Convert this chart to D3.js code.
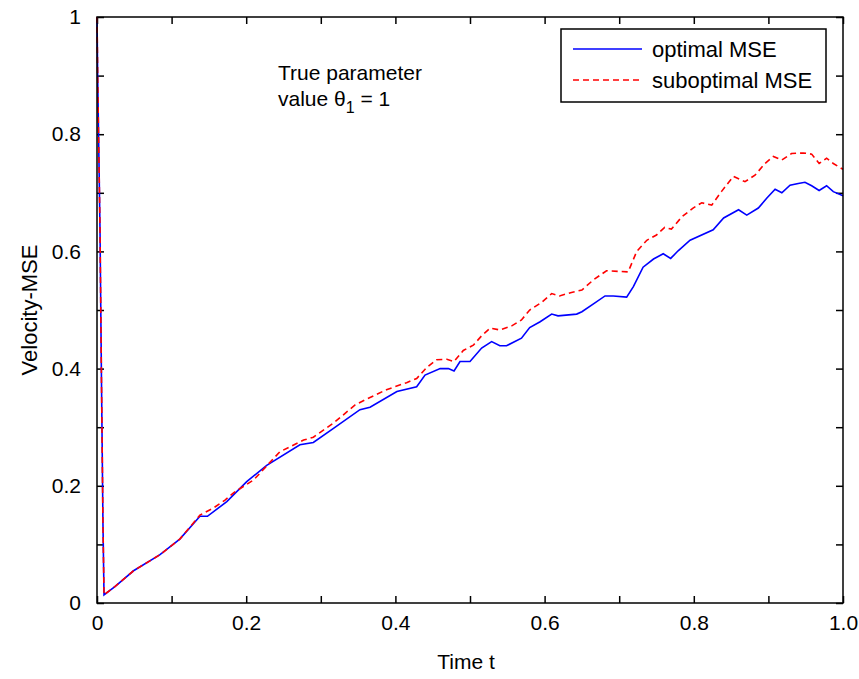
<!DOCTYPE html>
<html>
<head>
<meta charset="utf-8">
<script src="https://cdn.jsdelivr.net/npm/d3@7"></script>
<style>
  body { margin: 0; background: #fff; }
  svg text { font-family: "Liberation Sans", Arial, sans-serif; fill: #000; }
</style>
</head>
<body>
<div class="chart"></div>
<script>
var svgWidth = 859;
var svgHeight = 679;

var margin = { top: 17, right: 16, bottom: 76, left: 97 };
var width = svgWidth - margin.left - margin.right;
var height = svgHeight - margin.top - margin.bottom;

// data
var tOptimal = [0, 0.001, 0.004, 0.006, 0.008, 0.0094, 0.024, 0.049, 0.084, 0.111, 0.138, 0.148, 0.174, 0.2007,
  0.2275, 0.272, 0.29, 0.317, 0.3525, 0.366, 0.402, 0.4285, 0.4397, 0.46, 0.471, 0.4786, 0.4866, 0.5, 0.5156,
  0.529, 0.54, 0.549, 0.569, 0.58, 0.594, 0.6095, 0.618, 0.643, 0.65, 0.665, 0.681, 0.692, 0.71, 0.719, 0.732,
  0.746, 0.759, 0.769, 0.779, 0.795, 0.826, 0.84, 0.86, 0.871, 0.8865, 0.898, 0.909, 0.918, 0.929, 0.94, 0.949,
  0.958, 0.968, 0.978, 0.987, 1.0];
var mseOptimal = [1, 0.89, 0.64, 0.38, 0.135, 0.014, 0.028, 0.055, 0.082, 0.109, 0.148, 0.148, 0.173, 0.207,
  0.235, 0.27, 0.274, 0.298, 0.33, 0.334, 0.361, 0.369, 0.389, 0.4, 0.4, 0.396, 0.412, 0.412, 0.435,
  0.446, 0.439, 0.439, 0.452, 0.47, 0.48, 0.493, 0.49, 0.493, 0.497, 0.51, 0.524, 0.524, 0.522, 0.54, 0.573,
  0.587, 0.596, 0.588, 0.601, 0.619, 0.637, 0.657, 0.671, 0.662, 0.674, 0.691, 0.706, 0.7, 0.713, 0.716, 0.718,
  0.712, 0.704, 0.712, 0.702, 0.695];

var tSuboptimal = [0, 0.001, 0.004, 0.006, 0.008, 0.0094, 0.024, 0.049, 0.084, 0.111, 0.138, 0.156, 0.172, 0.183,
  0.21, 0.245, 0.277, 0.29, 0.317, 0.346, 0.3615, 0.388, 0.415, 0.4285, 0.442, 0.455, 0.469, 0.4786, 0.491,
  0.5045, 0.5156, 0.527, 0.54, 0.556, 0.569, 0.58, 0.596, 0.6095, 0.62, 0.636, 0.65, 0.665, 0.683, 0.712,
  0.7235, 0.737, 0.75, 0.761, 0.77, 0.784, 0.799, 0.8106, 0.824, 0.837, 0.853, 0.8686, 0.882, 0.8954, 0.9066,
  0.918, 0.931, 0.9468, 0.958, 0.968, 0.978, 0.987, 1.0];
var mseSuboptimal = [1, 0.89, 0.64, 0.38, 0.135, 0.014, 0.028, 0.055, 0.082, 0.109, 0.15, 0.162, 0.176, 0.188,
  0.21, 0.258, 0.278, 0.283, 0.307, 0.338, 0.348, 0.364, 0.376, 0.383, 0.402, 0.415, 0.416, 0.412, 0.431,
  0.44, 0.456, 0.469, 0.466, 0.473, 0.483, 0.5, 0.513, 0.528, 0.524, 0.53, 0.534, 0.551, 0.567, 0.565,
  0.6, 0.619, 0.628, 0.641, 0.638, 0.659, 0.674, 0.683, 0.679, 0.702, 0.728, 0.719, 0.73, 0.75, 0.762,
  0.756, 0.767, 0.768, 0.766, 0.75, 0.759, 0.75, 0.74];

var tickValues = [0, 0.1, 0.2, 0.3, 0.4, 0.5, 0.6, 0.7, 0.8, 0.9, 1.0];
var xTickLabels = ["0", "", "0.2", "", "0.4", "", "0.6", "", "0.8", "", "1.0"];
var yTickLabels = ["0", "", "0.2", "", "0.4", "", "0.6", "", "0.8", "", "1"];
var seriesNames = ["optimal MSE", "suboptimal MSE"];

var svg = d3.select(".chart")
  .append("svg")
  .attr("width", svgWidth)
  .attr("height", svgHeight);

var chartGroup = svg.append("g")
  .attr("transform", `translate(${margin.left}, ${margin.top})`);

var xScale = d3.scaleLinear().domain([0, 1]).range([0, width]);
var yScale = d3.scaleLinear().domain([0, 1]).range([height, 0]);

// axes on all four sides, ticks pointing inward
var bottomAxis = d3.axisBottom(xScale).tickValues(tickValues).tickSize(-7).tickPadding(12)
  .tickFormat((d, i) => xTickLabels[i]);
var leftAxis = d3.axisLeft(yScale).tickValues(tickValues).tickSize(-7).tickPadding(16)
  .tickFormat((d, i) => yTickLabels[i]);
var topAxis = d3.axisTop(xScale).tickValues(tickValues).tickSize(-7).tickFormat("");
var rightAxis = d3.axisRight(yScale).tickValues(tickValues).tickSize(-7).tickFormat("");

function styleAxis(g) {
  g.select(".domain").remove();
  g.selectAll(".tick line").attr("stroke", "#000").attr("stroke-width", 1.5);
  g.selectAll(".tick text").style("font-size", "21px");
}

chartGroup.append("g").attr("transform", `translate(0, ${height})`).call(bottomAxis).call(styleAxis);
chartGroup.append("g").call(leftAxis).call(styleAxis);
chartGroup.append("g").call(topAxis).call(styleAxis);
chartGroup.append("g").attr("transform", `translate(${width}, 0)`).call(rightAxis).call(styleAxis);

var line = d3.line()
  .x(d => xScale(d[0]))
  .y(d => yScale(d[1]));

var optData = tOptimal.map((t, i) => [t, mseOptimal[i]]);
var subData = tSuboptimal.map((t, i) => [t, mseSuboptimal[i]]);

chartGroup.append("path")
  .datum(optData)
  .attr("fill", "none")
  .attr("stroke", "#0000ff")
  .attr("stroke-width", 1.6)
  .attr("d", line);

chartGroup.append("path")
  .datum(subData)
  .attr("fill", "none")
  .attr("stroke", "#ff0000")
  .attr("stroke-width", 1.6)
  .attr("stroke-dasharray", "6,4")
  .attr("d", line);

// frame
chartGroup.append("rect")
  .attr("width", width)
  .attr("height", height)
  .attr("fill", "none")
  .attr("stroke", "#000")
  .attr("stroke-width", 1.5);

// axis labels
svg.append("text")
  .attr("x", margin.left + width / 2 - 4)
  .attr("y", 669)
  .attr("text-anchor", "middle")
  .style("font-size", "21px")
  .text("Time t");

svg.append("text")
  .attr("transform", `translate(37, ${margin.top + height / 2}) rotate(-90)`)
  .attr("text-anchor", "middle")
  .style("font-size", "22px")
  .text("Velocity-MSE");

// annotation
var note = svg.append("text")
  .attr("x", 278)
  .style("font-size", "21px");
note.append("tspan").attr("x", 278).attr("y", 80).text("True parameter");
var line2 = note.append("tspan").attr("x", 278).attr("y", 106).text("value θ");
line2.append("tspan").attr("dy", 7).style("font-size", "16px").text("1");
line2.append("tspan").attr("dy", -7).text(" = 1");

// legend
var legend = svg.append("g");
legend.append("rect")
  .attr("x", 561).attr("y", 29)
  .attr("width", 265).attr("height", 73)
  .attr("fill", "#fff")
  .attr("stroke", "#000")
  .attr("stroke-width", 1.5);

var legendColors = ["#0000ff", "#ff0000"];
var legendDash = [null, "6,4"];
seriesNames.forEach(function(name, i) {
  var y = 49 + i * 31;
  legend.append("line")
    .attr("x1", 573).attr("x2", 642)
    .attr("y1", y).attr("y2", y)
    .attr("stroke", legendColors[i])
    .attr("stroke-width", 1.6)
    .attr("stroke-dasharray", legendDash[i]);
  legend.append("text")
    .attr("x", 652).attr("y", y + 8)
    .style("font-size", "22px")
    .text(name);
});
</script>
</body>
</html>
